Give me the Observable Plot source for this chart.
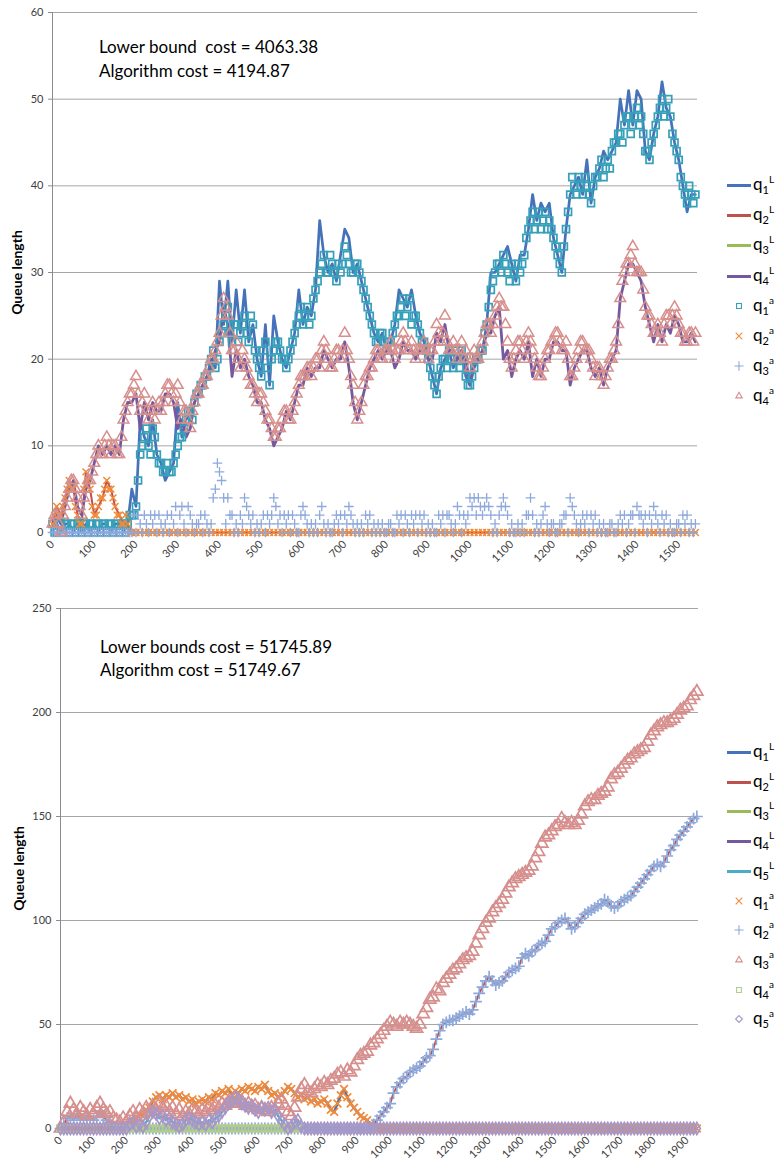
<!DOCTYPE html>
<html><head><meta charset="utf-8">
<script src="https://cdn.jsdelivr.net/npm/d3@7"></script>
<script src="https://cdn.jsdelivr.net/npm/@observablehq/plot@0.6"></script>
<style>
html,body{margin:0;padding:0;background:#fff;}
#wrap{position:relative;width:776px;height:1167px;font-family:Lato,"Open Sans",sans-serif;overflow:hidden;}
.panel{position:absolute;left:0;}
.note{position:absolute;font-size:17px;white-space:pre;color:#000;}
.item{position:absolute;left:727px;width:49px;height:20px;color:#000;}
.item .sw{position:absolute;left:0;top:9px;width:24px;height:3px;}
.item svg{position:absolute;left:0;top:0;}
.item .lbl{position:absolute;left:26px;top:0;font-size:17px;line-height:17px;white-space:nowrap;}
.item sub{font-size:11px;vertical-align:-4px;line-height:0;}
.item sup{font-size:10px;vertical-align:7px;line-height:0;}
g[aria-label="y-axis label"] text{font-weight:700;font-size:14px;fill:#000;}
</style></head>
<body><div id="wrap"></div>
<script>
// ---------------- TOP PANEL DATA ----------------
const topXTicks = [0,100,200,300,400,500,600,700,800,900,1000,1100,1200,1300,1400,1500];
const topYTicks = [0,10,20,30,40,50,60];

// q1 lower bound (line), t = 0..1540 step 10
const topQ1L = [0,1,0,1,1,0,1,0,1,0,
 1,0,1,1,0,1,1,0,1,5,
 3,13,11,10,13,9,8,6,7,8,
 15,11,13,14,15,16,17,18,20,19,
 29,24,29,22,28,23,28,22,24,20,
 18,24,17,25,22,20,19,21,23,28,
 24,26,25,28,36,32,30,31,29,32,
 35,34,30,31,29,27,25,23,22,23,
 21,22,24,28,27,26,28,25,23,22,
 20,18,16,19,20,21,19,20,21,18,
 17,19,20,21,24,30,30,31,32,33,
 31,29,32,32,35,39,36,38,37,38,
 34,32,30,35,39,40,41,39,43,38,
 41,42,44,43,44,45,50,47,51,47,
 51,50,44,43,46,48,52,49,48,45,
 43,40,37,39,39];
// q4 lower bound (line), t = 0..1540 step 10
const topQ4L = [0,2,1,3,5,6,3,2,5,6,
 8,10,9,10,9,10,9,13,15,15,
 16,12,15,13,15,14,14,16,16,15,
 12,13,11,12,15,16,17,18,19,21,
 22,26,24,18,21,19,20,18,17,15,
 15,13,12,10,11,12,14,13,15,17,
 17,19,18,19,19,21,20,19,20,20,
 22,19,15,13,15,17,19,20,21,20,
 21,21,19,20,22,21,21,20,21,21,
 20,20,23,22,24,21,21,20,21,20,
 17,20,20,21,23,23,25,26,20,21,
 18,20,21,20,22,18,20,18,20,20,
 22,22,21,21,17,19,20,21,21,19,
 18,19,17,19,20,21,27,29,31,31,
 30,29,26,24,22,24,22,24,23,25,
 24,22,22,23,22];
// q1 algorithm (squares), t = 0..1540 step 10
const topQ1a = [1,0,1,1,0,1,1,0,1,1,
 0,1,1,0,1,1,0,1,1,2,
 3,9,11,10,12,9,8,7,7,8,
 10,11,13,14,15,16,17,18,20,19,
 22,24,26,22,24,23,25,22,24,20,
 18,22,17,21,22,20,19,21,23,25,
 24,26,25,28,30,32,30,31,29,30,
 33,31,30,31,29,27,25,23,22,23,
 21,22,24,25,27,26,24,25,23,22,
 20,18,16,19,20,21,19,20,21,18,
 17,19,20,21,24,28,30,31,32,30,
 31,29,30,32,35,37,36,35,37,36,
 34,32,30,35,39,40,41,39,40,38,
 41,42,41,43,44,45,46,47,48,47,
 49,48,44,43,46,48,50,49,48,45,
 43,40,38,39,39];
// q1 algorithm (squares), in-between readings, t = 5..1535 step 10
const topQ1aMid = [0,1,0,1,1,0,1,1,0,1,
 1,0,1,1,0,1,1,0,2,2,
 6,10,12,9,11,8,7,8,7,9,
 11,12,14,13,16,17,18,19,21,20,
 23,25,23,24,22,24,23,25,21,19,
 21,19,20,22,21,20,20,22,24,26,
 25,24,27,29,31,30,32,30,31,31,
 32,30,31,30,28,26,24,22,23,22,
 22,23,25,26,25,27,25,24,22,21,
 19,17,18,20,19,20,21,19,20,17,
 18,20,21,23,26,29,31,30,31,29,
 30,31,31,34,36,35,37,36,35,35,
 33,31,33,37,41,39,40,41,39,40,
 41,43,42,42,45,46,45,48,46,48,
 47,46,44,45,47,49,48,50,46,44,
 41,39,40,38];
// q2 algorithm (crosses); q2 lower bound follows it, t = 0..1540 step 10
const topQ2a = [1,3,2,4,6,5,2,1,7,5,
 2,3,4,6,5,3,2,1,1,0,
 0,0,0,0,0,0,0,0,0,0,
 0,0,0,0,0,0,0,0,0,0,
 0,0,0,0,0,0,0,0,0,0,
 0,0,0,0,0,0,0,0,0,0,
 0,0,0,0,0,0,0,0,0,0,
 0,0,0,0,0,0,0,0,0,0,
 0,0,0,0,0,0,0,0,0,0,
 0,0,0,0,0,0,0,0,0,0,
 0,0,0,0,0,0,0,0,0,0,
 0,0,0,0,0,0,0,0,0,0,
 0,0,0,0,0,0,0,0,0,0,
 0,0,0,0,0,0,0,0,0,0,
 0,0,0,0,0,0,0,0,0,0,
 0,0,0,0,0];
// q2 algorithm (crosses), in-between readings, t = 5..185 step 10
const topQ2aMid = [2,2,3,5,5,3,1,5,6,3,
 2,4,5,5,4,2,1,2,0];
// q3 algorithm (plus), t = 0..1540 step 5
const topQ3a = [0,0,0,0,0,0,0,0,0,0,
 0,0,0,0,0,0,0,0,0,0,
 0,0,0,0,0,0,0,0,0,0,
 0,0,0,0,0,0,0,0,
 0,2, 0,2, 1,0, 2,1, 0,2, 1,2, 0,2, 1,0, 1,2, 0,2,
 1,3, 0,2, 3,1, 0,3, 2,1, 0,1, 1,2, 0,2, 1,0, 1,4,
 5,8, 7,6, 4,1, 4,2, 2,0, 1,0, 2,1, 4,3, 2,1, 2,0,
 1,0, 1,2, 0,2, 1,2, 4,3, 1,2, 0,2, 1,2, 0,2, 1,0,
 0,2, 3,2, 1,0, 1,0, 1,0, 2,3, 1,0, 1,0, 0,1, 2,1,
 2,0, 2,1, 3,2, 1,0, 1,0, 1,0, 2,1, 2,0, 1,0, 1,0,
 1,0, 0,1, 1,0, 0,2, 1,2, 0,2, 1,0, 2,1, 2,0, 2,1,
 2,0, 1,0, 1,0, 0,2, 1,2, 0,2, 2,1, 0,1, 3,2, 0,2,
 1,2, 4,3, 4,2, 4,3, 2,3, 4,3, 2,0, 1,0, 2,3, 4,3,
 2,0, 1,0, 0,1, 0,1, 0,2, 2,4, 2,0, 1,0, 1,2, 3,1,
 0,1, 1,0, 0,1, 1,2, 2,0, 4,3, 2,1, 0,1, 2,1, 2,0,
 2,1, 2,0, 1,0, 1,0, 0,1, 1,0, 0,1, 2,1, 2,0, 1,2,
 2,0, 3,2, 2,1, 2,0, 2,1, 3,2, 1,0, 2,1, 2,0, 1,0,
 0,1, 1,0, 2,1, 2,0, 1,0,
 1];
// q4 algorithm (triangles), t = 0..1540 step 10
const topQ4a = [1,2,0,3,5,6,4,2,5,6,
 8,10,9,11,9,10,9,13,15,16,
 18,14,16,13,15,14,14,16,17,15,
 17,13,14,12,15,16,17,18,20,21,
 23,27,25,21,22,19,20,18,17,15,
 16,14,13,11,12,13,14,13,15,17,
 18,19,18,20,19,22,20,19,21,20,
 23,20,17,13,15,18,19,20,21,20,
 21,22,20,21,23,21,22,20,21,22,
 20,21,24,22,25,21,22,20,22,21,
 19,21,20,22,24,23,25,27,26,22,
 19,21,22,20,23,21,19,18,20,21,
 22,23,21,22,18,19,21,22,21,20,
 18,19,17,19,20,22,27,30,31,33,
 30,30,26,25,23,24,22,25,24,26,
 24,23,22,23,23];
// q4 algorithm (triangles), in-between readings, t = 5..1535 step 10
const topQ4aMid = [2,1,2,4,6,5,3,4,6,7,
 9,9,10,10,10,9,11,14,16,17,
 16,15,14,14,13,15,15,17,16,16,
 15,14,13,14,16,17,18,19,20,22,
 25,26,23,21,20,21,19,17,16,16,
 15,13,12,11,12,14,13,14,16,18,
 18,19,19,20,21,21,19,20,21,21,
 21,18,15,14,17,18,19,21,20,21,
 21,21,21,22,22,21,21,21,21,21,
 21,22,23,23,22,21,21,21,20,20,
 20,20,21,23,24,24,26,26,24,20,
 20,22,21,22,22,20,18,19,21,22,
 23,22,21,20,18,20,22,21,21,19,
 19,18,18,20,21,24,29,31,32,31,
 30,28,25,24,23,23,24,25,25,25,
 23,22,23,22];

// ---------------- BOTTOM PANEL DATA (step 10) ----------------
const botXTicks = [0,100,200,300,400,500,600,700,800,900,1000,1100,1200,1300,1400,1500,1600,1700,1800,1900];
const botYTicks = [0,50,100,150,200,250];

// q1 algorithm (crosses), t = 0..1930
const botQ1a = [0,0,0,0,0,0,0,0,0,0,
 0,0,0,0,0,0,0,0,0,0,
 0,2,4,5,7,6,9,10,13,15,
 16,14,16,15,17,15,16,14,15,13,
 14,12,13,14,13,15,14,17,16,18,
 17,19,16,18,17,19,18,20,19,18,
 20,19,21,18,16,17,15,16,18,20,
 19,17,15,16,14,15,13,14,12,13,
 14,12,9,8,12,16,19,15,12,10,
 8,6,5,4,2,1,0,0,0,0,
 0,0,0,0,0,0,0,0,0,0,
 0,0,0,0,0,0,0,0,0,0,
 0,0,0,0,0,0,0,0,0,0,
 0,0,0,0,0,0,0,0,0,0,
 0,0,0,0,0,0,0,0,0,0,
 0,0,0,0,0,0,0,0,0,0,
 0,0,0,0,0,0,0,0,0,0,
 0,0,0,0,0,0,0,0,0,0,
 0,0,0,0,0,0,0,0,0,0,
 0,0,0,0];
// q2 algorithm (plus)
const botQ2a = [0,2,5,6,4,7,5,4,6,5,
 4,6,8,6,4,3,1,0,0,0,
 0,0,0,0,0,0,0,0,0,0,
 0,0,0,0,0,0,0,0,0,0,
 0,0,0,0,0,0,0,0,0,0,
 0,0,0,0,0,0,0,0,0,0,
 0,0,0,0,0,0,0,0,0,0,
 0,0,0,0,0,0,0,0,0,0,
 0,0,0,0,0,0,0,0,0,0,
 0,0,0,0,0,2,4,6,8,10,
 12,17,20,22,24,25,27,28,29,30,
 32,34,35,38,43,47,50,51,52,52,
 53,54,55,56,55,57,61,65,68,71,
 73,71,69,70,71,73,75,76,77,78,
 82,84,83,85,86,88,89,90,93,96,
 97,99,100,101,99,96,97,99,101,103,
 104,105,106,107,108,110,109,107,106,107,
 109,110,111,112,114,116,118,120,122,124,
 126,127,126,128,131,134,136,139,141,143,
 145,147,149,150];
// q3 algorithm (triangles)
const botQ3a = [0,3,8,12,9,7,10,8,6,9,
 7,10,12,9,7,8,5,4,3,5,
 3,6,8,5,9,7,10,8,11,9,
 12,10,11,8,10,7,9,6,8,7,
 9,8,7,9,8,10,9,11,10,12,
 11,13,12,14,12,13,11,12,10,11,
 9,10,9,8,10,9,12,14,11,8,
 6,10,15,19,21,18,17,19,21,20,
 22,21,23,24,26,27,25,28,27,30,
 33,35,36,37,40,41,43,45,47,49,
 51,50,49,51,50,51,50,49,48,50,
 55,58,62,63,67,66,70,72,74,76,
 77,79,81,82,83,85,89,93,96,99,
 101,104,106,108,110,113,116,118,120,121,
 122,123,124,126,130,133,137,140,141,143,
 145,146,149,147,146,147,146,148,151,155,
 157,158,158,160,161,162,164,168,170,171,
 173,175,177,178,180,181,182,183,186,189,
 191,193,194,195,195,196,197,199,201,202,
 203,206,208,210];
// q5 algorithm (diamonds)
const botQ5a = [0,0,0,0,0,0,0,0,0,0,
 0,0,0,0,0,0,0,0,0,0,
 0,2,3,1,2,1,3,6,8,7,
 5,6,4,5,3,2,1,2,4,5,
 4,3,2,3,2,4,3,5,6,8,
 10,12,13,15,14,12,11,10,11,9,
 8,10,9,10,8,9,6,4,2,0,
 1,3,4,1,0,0,0,0,0,0,
 0,0,0,0,0,0,0,0,0,0,
 0,0,0,0,0,0,0,0,0,0,
 0,0,0,0,0,0,0,0,0,0,
 0,0,0,0,0,0,0,0,0,0,
 0,0,0,0,0,0,0,0,0,0,
 0,0,0,0,0,0,0,0,0,0,
 0,0,0,0,0,0,0,0,0,0,
 0,0,0,0,0,0,0,0,0,0,
 0,0,0,0,0,0,0,0,0,0,
 0,0,0,0,0,0,0,0,0,0,
 0,0,0,0,0,0,0,0,0,0,
 0,0,0,0];
// q3 lower bound (green line) and q4 algorithm (squares), t = 0..720
const botQ3L = [0,0,0,0,0,0,0,0,0,0,
 0,0,0,0,0,0,0,0,0,0,
 0,0,0,0,0,0,0,0,0,0,
 0,0,0,0,0,0,0,0,0,0,
 0,0,0,0,0,0,0,0,0,0,
 0,0,0,0,0,0,0,0,0,0,
 0,0,0,0,0,0,0,0,0,0,
 0,0,0];
const botQ4a = [0,0,0,0,0,0,0,0,0,0,
 0,0,0,0,0,0,0,0,0,0,
 0,0,0,0,0,0,0,0,0,0,
 0,0,0,0,0,0,0,0,0,0,
 0,0,0,0,0,0,0,0,0,0,
 0,0,0,0,0,0,0,0,0,0,
 0,0,0,0,0,0,0,0,0,0,
 0,0,0];

const topNotes = ["Lower bound  cost = 4063.38", "Algorithm cost = 4194.87"];
const botNotes = ["Lower bounds cost = 51745.89", "Algorithm cost = 51749.67"];

const C = {blue:"#4572B8", red:"#C0504D", green:"#9BBB59", purple:"#7559A0", aqua:"#36A0BA",
           orange:"#F08A3A", lblue:"#8EA9DB", pink:"#D68F8D", lgreen:"#B3CD8A", lpurple:"#A897C6"};

const rows = (vals, step, start = 0) => vals.map((v, i) => ({t: start + i * step, v}));
const fmt = d => String(d);
const baseStyle = {fontFamily: "Lato, sans-serif", fontSize: "11px", color: "#404040", background: "transparent", overflow: "visible"};

const sq = {x: "t", y: "v", symbol: "square", r: 3.9, stroke: C.aqua, strokeWidth: 1.7, fill: "none"};
const tri = {x: "t", y: "v", symbol: "triangle", r: 4, stroke: C.pink, strokeWidth: 1.5, fill: "none"};
const tms = {x: "t", y: "v", symbol: "times", r: 3.2, stroke: C.orange, strokeWidth: 1.5};

const topPlot = Plot.plot({
  width: 776, height: 565, marginLeft: 52, marginRight: 79, marginTop: 12, marginBottom: 33,
  style: baseStyle,
  x: {domain: [0, 1545]},
  y: {domain: [0, 60]},
  marks: [
    Plot.gridY(topYTicks, {stroke: "#a6a6a6", strokeOpacity: 1}),
    Plot.ruleX([0], {stroke: "#8c8c8c"}),
    Plot.ruleY([0], {stroke: "#8c8c8c", strokeWidth: 1.5}),
    Plot.axisY(topYTicks, {tickSize: 4, tickPadding: 5, stroke: "#8c8c8c", tickFormat: fmt, label: "Queue length", labelAnchor: "center", labelArrow: "none", labelOffset: 40}),
    Plot.axisX(topXTicks, {tickRotate: -45, tickSize: 0, tickPadding: 10, tickFormat: fmt, label: null}),
    Plot.lineY(rows(topQ1L, 10), {x: "t", y: "v", stroke: C.blue, strokeWidth: 2.7}),
    Plot.lineY(rows(topQ2a, 10), {x: "t", y: "v", stroke: C.red, strokeWidth: 2}),
    Plot.lineY(rows(topQ4L, 10), {x: "t", y: "v", stroke: C.purple, strokeWidth: 2.8}),
    Plot.dot(rows(topQ1a, 10), sq),
    Plot.dot(rows(topQ1aMid, 10, 5), sq),
    Plot.dot(rows(topQ2a, 10), tms),
    Plot.dot(rows(topQ2aMid, 10, 5), tms),
    Plot.dot(rows(topQ3a, 5), {x: "t", y: "v", symbol: "plus", r: 3.2, stroke: C.lblue, strokeWidth: 1.3}),
    Plot.dot(rows(topQ4a, 10), tri),
    Plot.dot(rows(topQ4aMid, 10, 5), tri)
  ]
});

const botPlot = Plot.plot({
  width: 776, height: 597, marginLeft: 60, marginRight: 78, marginTop: 38, marginBottom: 39,
  style: baseStyle,
  x: {domain: [0, 1935]},
  y: {domain: [0, 250]},
  marks: [
    Plot.gridY(botYTicks, {stroke: "#a6a6a6", strokeOpacity: 1}),
    Plot.ruleX([0], {stroke: "#8c8c8c"}),
    Plot.ruleY([0], {stroke: "#8c8c8c", strokeWidth: 1.5}),
    Plot.axisY(botYTicks, {tickSize: 4, tickPadding: 5, stroke: "#8c8c8c", tickFormat: fmt, label: "Queue length", labelAnchor: "center", labelArrow: "none", labelOffset: 46}),
    Plot.axisX(botXTicks, {tickRotate: -45, tickSize: 0, tickPadding: 10, tickFormat: fmt, label: null}),
    Plot.lineY(rows(botQ1a, 10), {x: "t", y: "v", stroke: C.blue, strokeWidth: 2.5}),
    Plot.lineY(rows(botQ2a, 10), {x: "t", y: "v", stroke: C.red, strokeWidth: 2}),
    Plot.lineY(rows(botQ3L, 10), {x: "t", y: "v", stroke: C.lgreen, strokeWidth: 5}),
    Plot.lineY(rows(botQ5a, 10), {x: "t", y: "v", stroke: "#4BACC6", strokeWidth: 2.5}),
    Plot.dot(rows(botQ1a, 10), {x: "t", y: "v", symbol: "times", r: 3.6, stroke: C.orange, strokeWidth: 1.7}),
    Plot.dot(rows(botQ2a, 10), {x: "t", y: "v", symbol: "plus", r: 3.9, stroke: C.lblue, strokeWidth: 1.7}),
    Plot.dot(rows(botQ3a, 10), {x: "t", y: "v", symbol: "triangle", r: 4.5, stroke: C.pink, strokeWidth: 1.7, fill: "none"}),
    Plot.dot(rows(botQ4a, 10), {x: "t", y: "v", symbol: "square", r: 3.8, stroke: C.lgreen, strokeWidth: 1.5, fill: "none"}),
    Plot.dot(rows(botQ5a, 10), {x: "t", y: "v", symbol: "diamond", r: 3.7, stroke: C.lpurple, strokeWidth: 1.7, fill: "none"})
  ]
});

const wrap = document.getElementById("wrap");
topPlot.classList.add("panel"); topPlot.style.top = "0px";
botPlot.classList.add("panel"); botPlot.style.top = "570px";
wrap.appendChild(topPlot);
wrap.appendChild(botPlot);

function note(lines, left, top, lh) {
  const d = document.createElement("div");
  d.className = "note";
  d.style.left = left + "px"; d.style.top = top + "px"; d.style.lineHeight = lh + "px";
  d.textContent = lines.join("\n");
  wrap.appendChild(d);
}
note(topNotes, 99, 35, 24);
note(botNotes, 100, 635, 23);

const symbolMap = {square: d3.symbolSquare2, times: d3.symbolTimes, plus: d3.symbolPlus, triangle: d3.symbolTriangle2, diamond: d3.symbolDiamond2};
function legend(items, y0, gap) {
  items.forEach((it, i) => {
    const cy = y0 + i * gap;
    const d = document.createElement("div");
    d.className = "item";
    d.style.top = (cy - 10) + "px";
    let sw;
    if (it.line) sw = `<div class="sw" style="background:${it.color}"></div>`;
    else sw = `<svg width="24" height="20"><path transform="translate(12,10)" d="${d3.symbol(symbolMap[it.sym], 30)()}" fill="none" stroke="${it.color}" stroke-width="1.1"/></svg>`;
    d.innerHTML = sw + `<span class="lbl">q<sub>${it.n}</sub><sup>${it.s}</sup></span>`;
    wrap.appendChild(d);
  });
}
legend([
  {n: 1, s: "L", line: true, color: C.blue},
  {n: 2, s: "L", line: true, color: C.red},
  {n: 3, s: "L", line: true, color: C.green},
  {n: 4, s: "L", line: true, color: C.purple},
  {n: 1, s: "a", sym: "square", color: C.aqua},
  {n: 2, s: "a", sym: "times", color: C.orange},
  {n: 3, s: "a", sym: "plus", color: C.lblue},
  {n: 4, s: "a", sym: "triangle", color: C.pink}
], 185, 30.2);
legend([
  {n: 1, s: "L", line: true, color: C.blue},
  {n: 2, s: "L", line: true, color: C.red},
  {n: 3, s: "L", line: true, color: C.green},
  {n: 4, s: "L", line: true, color: C.purple},
  {n: 5, s: "L", line: true, color: "#4BACC6"},
  {n: 1, s: "a", sym: "times", color: C.orange},
  {n: 2, s: "a", sym: "plus", color: C.lblue},
  {n: 3, s: "a", sym: "triangle", color: C.pink},
  {n: 4, s: "a", sym: "square", color: C.lgreen},
  {n: 5, s: "a", sym: "diamond", color: C.lpurple}
], 752, 29.7);
</script></body></html>
